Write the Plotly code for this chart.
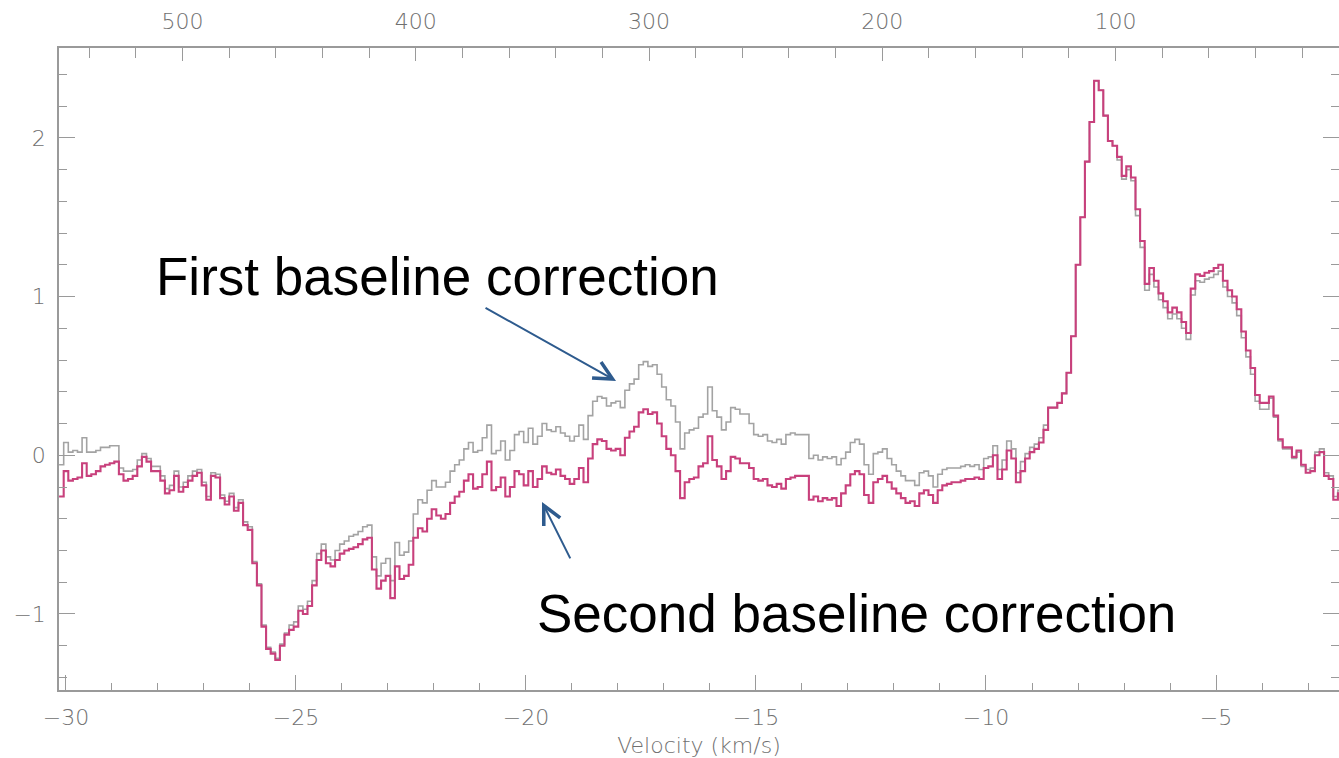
import numpy as np
import plotly.graph_objects as go

# Velocity grid of the spectrum (km/s): first channel edge and channel width
vel_start = -30.15
vel_step = 0.1

# Second baseline correction (antenna temperature, K), one value per channel
second_baseline = [
    -0.26, -0.10, -0.16, -0.15, -0.14, -0.05, -0.13, -0.12, -0.10, -0.07,
    -0.06, -0.05, -0.04, -0.12, -0.16, -0.15, -0.13, -0.07, -0.01, -0.04,
    -0.10, -0.10, -0.16, -0.24, -0.22, -0.13, -0.23, -0.20, -0.16, -0.13,
    -0.11, -0.19, -0.28, -0.13, -0.14, -0.27, -0.31, -0.26, -0.35, -0.30,
    -0.44, -0.47, -0.68, -0.82, -1.08, -1.22, -1.25, -1.29, -1.20, -1.13,
    -1.10, -1.08, -0.98, -1.00, -0.95, -0.82, -0.66, -0.60, -0.68, -0.70,
    -0.66, -0.62, -0.60, -0.59, -0.58, -0.56, -0.53, -0.52, -0.72, -0.84,
    -0.79, -0.76, -0.90, -0.70, -0.78, -0.76, -0.69, -0.52, -0.46, -0.48,
    -0.40, -0.34, -0.38, -0.40, -0.37, -0.30, -0.26, -0.23, -0.16, -0.12,
    -0.21, -0.20, -0.12, -0.04, -0.22, -0.20, -0.14, -0.26, -0.20, -0.10,
    -0.12, -0.19, -0.10, -0.20, -0.15, -0.07, -0.11, -0.12, -0.09, -0.13,
    -0.15, -0.18, -0.15, -0.08, -0.17, -0.02, 0.07, 0.10, 0.09, 0.04,
    0.03, 0.04, 0.00, 0.11, 0.15, 0.18, 0.27, 0.29, 0.26, 0.27,
    0.20, 0.12, 0.04, 0.00, -0.10, -0.27, -0.17, -0.15, -0.14, -0.07,
    -0.05, 0.12, -0.03, -0.07, -0.15, -0.10, -0.01, -0.02, -0.05, -0.05,
    -0.08, -0.15, -0.16, -0.15, -0.19, -0.20, -0.18, -0.21, -0.15, -0.14,
    -0.13, -0.13, -0.13, -0.28, -0.26, -0.29, -0.27, -0.28, -0.27, -0.32,
    -0.24, -0.19, -0.12, -0.10, -0.12, -0.25, -0.30, -0.17, -0.15, -0.13,
    -0.17, -0.21, -0.24, -0.27, -0.30, -0.29, -0.32, -0.24, -0.22, -0.25,
    -0.30, -0.22, -0.19, -0.18, -0.17, -0.17, -0.16, -0.15, -0.15, -0.14,
    -0.15, -0.08, -0.07, 0.00, -0.15, -0.09, 0.03, -0.02, -0.17, -0.10,
    -0.02, 0.02, 0.04, 0.08, 0.16, 0.30, 0.30, 0.33, 0.39, 0.52,
    0.75, 1.20, 1.50, 1.85, 2.10, 2.36, 2.30, 2.14, 1.98, 1.95,
    1.88, 1.76, 1.82, 1.75, 1.55, 1.35, 1.08, 1.18, 1.10, 1.02,
    0.97, 0.90, 0.93, 0.90, 0.84, 0.77, 1.05, 1.14, 1.13, 1.15,
    1.16, 1.18, 1.20, 1.10, 1.04, 1.00, 0.92, 0.78, 0.66, 0.55,
    0.38, 0.33, 0.33, 0.37, 0.25, 0.10, 0.05, 0.05, -0.01, 0.03,
    -0.06, -0.11, -0.10, 0.00, 0.02, -0.13, -0.15, -0.28, -0.24,
]

# First baseline correction, same channels
first_baseline = [
    -0.06, 0.08, 0.02, 0.03, 0.02, 0.11, 0.02, 0.02, 0.03, 0.05,
    0.05, 0.06, 0.06, -0.08, -0.10, -0.10, -0.09, -0.03, 0.01, -0.02,
    -0.07, -0.07, -0.13, -0.21, -0.19, -0.10, -0.20, -0.17, -0.13, -0.10,
    -0.09, -0.17, -0.26, -0.11, -0.12, -0.25, -0.29, -0.24, -0.33, -0.28,
    -0.42, -0.45, -0.67, -0.81, -1.07, -1.21, -1.24, -1.28, -1.19, -1.12,
    -1.07, -1.05, -0.95, -0.97, -0.92, -0.79, -0.62, -0.56, -0.64, -0.66,
    -0.60, -0.56, -0.54, -0.51, -0.50, -0.48, -0.45, -0.44, -0.64, -0.76,
    -0.68, -0.65, -0.79, -0.55, -0.63, -0.61, -0.54, -0.37, -0.28, -0.30,
    -0.22, -0.16, -0.20, -0.20, -0.17, -0.10, -0.06, -0.03, 0.04, 0.08,
    0.02, 0.03, 0.11, 0.19, 0.01, 0.03, 0.09, -0.03, 0.03, 0.13,
    0.15, 0.08, 0.17, 0.07, 0.12, 0.20, 0.16, 0.15, 0.18, 0.14,
    0.12, 0.09, 0.12, 0.19, 0.10, 0.25, 0.34, 0.37, 0.36, 0.31,
    0.33, 0.34, 0.30, 0.41, 0.45, 0.48, 0.57, 0.59, 0.56, 0.57,
    0.51, 0.43, 0.35, 0.31, 0.21, 0.04, 0.14, 0.16, 0.17, 0.24,
    0.26, 0.43, 0.28, 0.24, 0.16, 0.21, 0.30, 0.29, 0.26, 0.26,
    0.20, 0.13, 0.12, 0.13, 0.09, 0.08, 0.10, 0.07, 0.13, 0.14,
    0.13, 0.13, 0.13, -0.02, 0.00, -0.03, -0.01, -0.02, -0.01, -0.06,
    -0.02, 0.02, 0.08, 0.10, 0.07, -0.06, -0.12, 0.01, 0.02, 0.04,
    -0.02, -0.06, -0.10, -0.13, -0.16, -0.16, -0.19, -0.11, -0.10, -0.13,
    -0.20, -0.12, -0.09, -0.08, -0.08, -0.08, -0.07, -0.06, -0.07, -0.06,
    -0.09, -0.02, -0.01, 0.06, -0.09, -0.03, 0.09, 0.04, -0.11, -0.04,
    0.01, 0.05, 0.07, 0.11, 0.19, 0.30, 0.30, 0.33, 0.39, 0.52,
    0.75, 1.20, 1.50, 1.85, 2.10, 2.36, 2.30, 2.14, 1.98, 1.95,
    1.86, 1.74, 1.80, 1.73, 1.51, 1.31, 1.04, 1.14, 1.06, 0.98,
    0.93, 0.86, 0.89, 0.86, 0.80, 0.73, 1.01, 1.10, 1.09, 1.11,
    1.12, 1.14, 1.16, 1.06, 1.00, 0.96, 0.88, 0.74, 0.62, 0.51,
    0.34, 0.29, 0.29, 0.36, 0.24, 0.09, 0.04, 0.04, -0.02, 0.02,
    -0.07, -0.09, -0.08, 0.02, 0.04, -0.11, -0.13, -0.26, -0.22,
]

# Channel-number scale on the top axis: channel 100 sits at -7.185 km/s,
# channels run opposite to velocity, 0.050705 km/s per channel
chan_ref = 100
chan_ref_vel = -7.185
chan_width = 0.050705

# Visible window
vel_min, vel_max = -30.152, -2.326
temp_min, temp_max = -1.479, 2.566

n = len(second_baseline)
edges = np.round(vel_start + vel_step * np.arange(n + 1), 3)


def step_values(vals):
    return list(vals) + [vals[-1]]


def to_channel(v):
    return chan_ref + (chan_ref_vel - v) / chan_width


AX = "#9a9a9a"
LBL = "#707070"
tick_font = dict(family="DejaVu Sans, Verdana, sans-serif", size=22, color=LBL, weight=300)

fig = go.Figure()
fig.add_trace(go.Scatter(
    x=edges, y=step_values(first_baseline), mode="lines",
    line=dict(color="#a3a3a3", width=1.6, shape="hv"),
    name="First baseline correction", showlegend=False,
))
fig.add_trace(go.Scatter(
    x=edges, y=step_values(second_baseline), mode="lines",
    line=dict(color="#c8407c", width=2.1, shape="hv"),
    name="Second baseline correction", showlegend=False,
))
# empty traces that carry the top channel axis and right-hand tick axis
fig.add_trace(go.Scatter(x=[], y=[], xaxis="x2", yaxis="y", showlegend=False, hoverinfo="skip"))
fig.add_trace(go.Scatter(x=[], y=[], xaxis="x", yaxis="y2", showlegend=False, hoverinfo="skip"))

axis_common = dict(
    showgrid=False, zeroline=False, showline=True, linecolor=AX, linewidth=1.5,
    ticks="inside", tickcolor=AX, tickwidth=1.3, tickfont=tick_font,
)

fig.update_layout(
    width=1339, height=758,
    margin=dict(l=59, r=0, t=48, b=68),
    paper_bgcolor="white", plot_bgcolor="white",
    xaxis=dict(
        **axis_common, range=[vel_min, vel_max], tick0=0, dtick=5, ticklen=15,
        minor=dict(dtick=1, ticklen=7, ticks="inside", tickcolor=AX, tickwidth=1.3),
        ticklabelstandoff=7,
        title=dict(text="Velocity (km/s)", font=tick_font, standoff=8),
    ),
    xaxis2=dict(
        **axis_common, overlaying="x", side="top", anchor="y",
        range=[to_channel(vel_min), to_channel(vel_max)],
        tick0=0, dtick=100, ticklen=13,
        minor=dict(dtick=20, ticklen=10, ticks="inside", tickcolor=AX, tickwidth=1.3),
        ticklabelstandoff=8,
    ),
    yaxis=dict(
        **axis_common, range=[temp_min, temp_max], tick0=0, dtick=1, ticklen=16,
        minor=dict(dtick=0.2, ticklen=8, ticks="inside", tickcolor=AX, tickwidth=1.3),
        ticklabelstandoff=7,
    ),
    yaxis2=dict(
        overlaying="y", side="right", anchor="x", range=[temp_min, temp_max],
        showgrid=False, zeroline=False, showline=False, showticklabels=False,
        ticks="inside", tickcolor=AX, tickwidth=1.3, tick0=0, dtick=1, ticklen=16,
        minor=dict(dtick=0.2, ticklen=8, ticks="inside", tickcolor=AX, tickwidth=1.3),
    ),
)

label_font = dict(family="Liberation Sans, Arial, sans-serif", size=53, color="black")
arrow_color = "#2e5b8e"

fig.add_annotation(
    text="First baseline correction", xref="paper", yref="paper",
    x=(154 - 59) / 1280, y=(690 - 276) / 642, xanchor="left", yanchor="middle",
    showarrow=False, font=label_font,
)
fig.add_annotation(
    text="Second baseline correction", xref="paper", yref="paper",
    x=(535 - 59) / 1280, y=(690 - 613) / 642, xanchor="left", yanchor="middle",
    showarrow=False, font=label_font,
)
fig.add_annotation(
    text="", x=-18.043, y=0.468, xref="x", yref="y",
    showarrow=True, ax=-132, ay=-74, arrowhead=5, arrowsize=1.8,
    arrowwidth=2, arrowcolor=arrow_color, standoff=0, startstandoff=0,
)
fig.add_annotation(
    text="", x=-19.652, y=-0.294, xref="x", yref="y",
    showarrow=True, ax=29, ay=58, arrowhead=5, arrowsize=1.8,
    arrowwidth=2, arrowcolor=arrow_color, standoff=0, startstandoff=0,
)

fig.write_html("out.html")
